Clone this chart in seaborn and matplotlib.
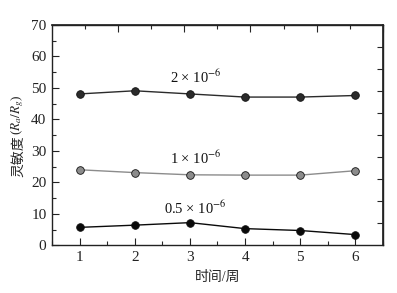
import numpy as np
import pandas as pd
import matplotlib
matplotlib.use("Agg")
import matplotlib.pyplot as plt
import seaborn as sns
from matplotlib.ticker import MultipleLocator, FixedLocator

weeks = [1, 2, 3, 4, 5, 6]
s_2e6 = [48.1, 49.1, 48.1, 47.1, 47.1, 47.6]
s_1e6 = [24.0, 23.1, 22.4, 22.3, 22.3, 23.7]
s_05e6 = [5.7, 6.4, 7.2, 5.3, 4.7, 3.4]
series_names = ["2e-6", "1e-6", "0.5e-6"]
series_labels = ["2 × 10$^{-6}$", "1 × 10$^{-6}$", "0.5 × 10$^{-6}$"]
series_colors = ["#2b2b2b", "#8c8c8c", "#0a0a0a"]

df = pd.DataFrame({
    "week": weeks * 3,
    "value": s_2e6 + s_1e6 + s_05e6,
    "series": [series_names[0]] * 6 + [series_names[1]] * 6 + [series_names[2]] * 6,
})

sns.set_theme(style="ticks")
plt.rcParams["font.family"] = ["Liberation Serif", "Noto Sans CJK SC", "DejaVu Sans"]
plt.rcParams["mathtext.fontset"] = "stix"

fig = plt.figure(figsize=(3.97, 2.93), dpi=100)
ax = fig.add_axes([52 / 397, 1 - 245.3 / 293, (383 - 52) / 397, (245.3 - 25) / 293])

sns.lineplot(data=df, x="week", y="value", hue="series", hue_order=series_names,
             palette=dict(zip(series_names, series_colors)), marker="o",
             markersize=5.5, markeredgecolor="#111111", markeredgewidth=0.6,
             linewidth=1.0, legend=False, ax=ax)

ax.set_xlim(0.5, 6.5)
ax.set_ylim(0, 70)
ax.xaxis.set_major_locator(MultipleLocator(1))
ax.xaxis.set_minor_locator(MultipleLocator(0.5))
ax.yaxis.set_major_locator(MultipleLocator(10))
ax.yaxis.set_minor_locator(MultipleLocator(5))
ax.tick_params(which="major", direction="in", length=5, width=0.8, labelsize=11,
               colors="#222222", pad=4)
ax.tick_params(which="minor", direction="in", length=3, width=0.8)
for sp in ax.spines.values():
    sp.set_linewidth(1.0)
    sp.set_color("#222222")

step = 33.1 / 55.2
top = ax.secondary_xaxis("top", functions=(lambda x: x, lambda x: x))
top.set_xticks(np.arange(0.5 + 2 * step, 6.5, 2 * step))
top.xaxis.set_minor_locator(FixedLocator(np.arange(0.5 + step, 6.5, 2 * step)))
top.tick_params(which="major", direction="in", length=5, labeltop=False, width=0.8)
top.tick_params(which="minor", direction="in", length=3, width=0.8)
right = ax.secondary_yaxis("right", functions=(lambda y: y, lambda y: y))
right.set_yticks(np.arange(7, 70, 7))
right.tick_params(direction="in", length=4, labelright=False, width=0.8)

ax.set_xlabel("时间/周", fontsize=10, labelpad=5)
ax.set_ylabel("")

# y label in two parts (CJK + math)
ylab_x = -0.103
ylab_split = 0.50
ax.text(ylab_x, ylab_split, "灵敏度", rotation=90, ha="center", va="top",
        fontsize=10, family=["Noto Sans CJK SC"], transform=ax.transAxes)
ax.text(ylab_x, ylab_split, r"($R_a/R_g$)", rotation=90, ha="center", va="bottom",
        fontsize=9.5, transform=ax.transAxes)

label_pos = [(3.1, 53.3), (3.1, 27.8), (3.1, 11.9)]
for (lx, ly), txt in zip(label_pos, series_labels):
    ax.text(lx, ly, txt, ha="center", va="center", fontsize=10.5, color="#111111")

fig.savefig("out.png", dpi=100)
